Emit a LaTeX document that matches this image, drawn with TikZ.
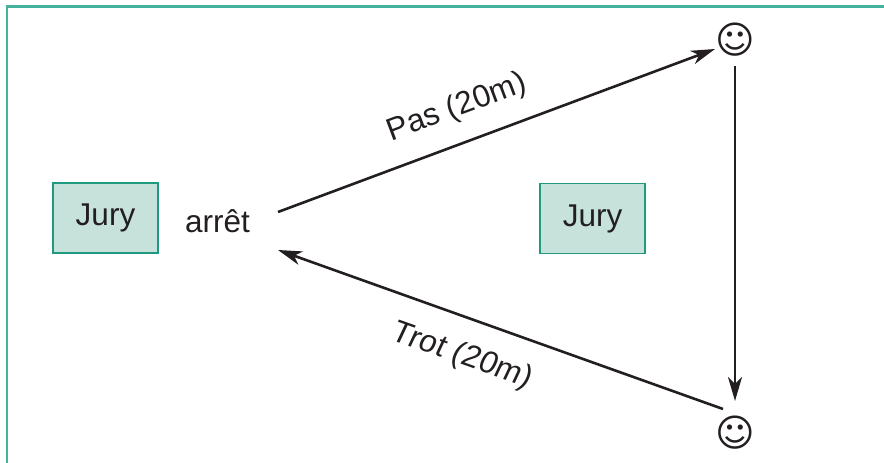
\documentclass[tikz,border=0pt]{standalone}
\usepackage{fontspec}
\setmainfont{Liberation Sans}
\newfontfamily\symfont{DejaVu Sans}
\usetikzlibrary{arrows.meta}
\definecolor{framegreen}{HTML}{45B39C}
\definecolor{boxfill}{HTML}{C6E2DB}
\definecolor{boxline}{HTML}{1F9A80}
\definecolor{ink}{HTML}{231F20}
\tikzset{
  x=1pt,y=-1pt,
  jurybox/.style={draw=boxline,fill=boxfill,line width=1.4pt,minimum width=105pt,minimum height=70pt,inner sep=0pt,text=ink,font=\fontsize{31.5}{34}\selectfont},
  lab/.style={text=ink,inner sep=0pt,font=\fontsize{31.5}{34}\selectfont},
  smiley/.style={text=ink,inner sep=0pt,font=\symfont\fontsize{38}{40}\selectfont},
  conn/.style={draw=ink,line width=2.6pt,-{Stealth[length=24pt,width=14pt,inset=7pt]}},
}
\begin{document}
\begin{tikzpicture}
\useasboundingbox (0,0) rectangle (884,463);
\draw[framegreen,line width=2.2pt] (7,463) -- (7,6.5) -- (884,6.5);
\node[jurybox] (j1) at (105.5,218) {Jury};
\node[jurybox] (j2) at (592.5,218.5) {Jury};
\node[lab] (arret) at (217.5,221) {arrêt};
\node[smiley] (s1) at (735,40) {☺};
\node[smiley] (s2) at (735,433) {☺};
\coordinate (p1) at (278,212);
\coordinate (p2) at (715,49);
\coordinate (p3) at (735,66);
\coordinate (p4) at (735,401);
\coordinate (p5) at (723,409);
\coordinate (p6) at (278,250);
\draw[conn] (p1) -- (p2);
\draw[conn] (p3) -- (p4);
\draw[conn] (p5) -- (p6);
\node[lab,rotate=20.5] (l1) at (457,108) {Pas (20m)};
\node[lab,rotate=-19.5,xslant=0.1] (l2) at (462,356) {Trot (20m)};
\end{tikzpicture}
\end{document}
